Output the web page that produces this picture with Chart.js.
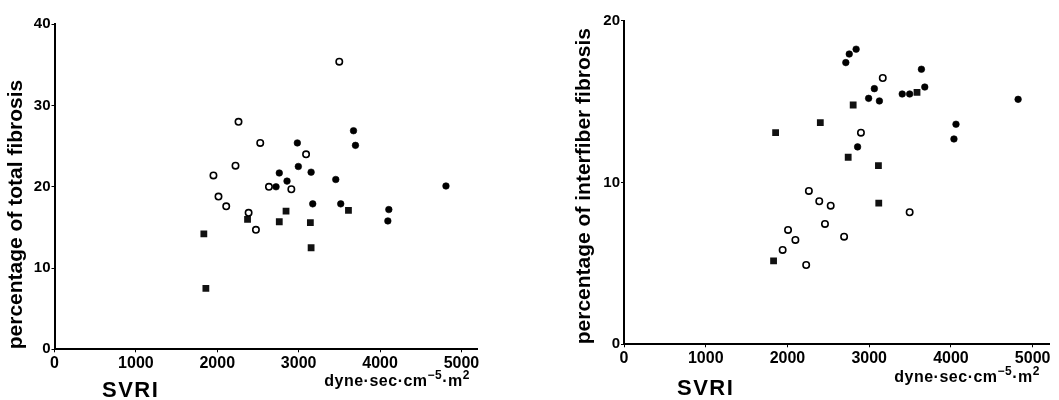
<!DOCTYPE html>
<html>
<head>
<meta charset="utf-8">
<script src="https://cdn.jsdelivr.net/npm/chart.js@4.4.1/dist/chart.umd.min.js"></script>
<style>
  html, body { margin: 0; padding: 0; background: #fff; }
  #wrap { position: relative; width: 1059px; height: 400px; }
  #leftChart { position: absolute; left: 0; top: 0; }
  #rightChart { position: absolute; left: 530px; top: 0; }
</style>
</head>
<body>
<div id="wrap">
  <canvas id="leftChart" width="530" height="400"></canvas>
  <canvas id="rightChart" width="529" height="400"></canvas>
</div>
<script>
// ==============================
// DATA
// ==============================
const xTicks = [0, 1000, 2000, 3000, 4000, 5000];
const leftYTicks = [0, 10, 20, 30, 40];
const rightYTicks = [0, 10, 20];

const xName = "SVRI";
const unitParts = ["dyne·sec·cm", "−5", "·m", "2"]; // odd entries are superscripts

const leftTitle = "percentage of total fibrosis";
const rightTitle = "percentage of interfiber fibrosis";

// total fibrosis
const leftOpenX = [3499, 2261, 2528, 3091, 2224, 1953, 2635, 2910, 2015, 2110, 2385, 2475];
const leftOpenY = [35.4, 28.0, 25.4, 24.0, 22.6, 21.4, 20.0, 19.7, 18.8, 17.6, 16.8, 14.7];
const leftFilledX = [3674, 3698, 2984, 2996, 2762, 3153, 2857, 2722, 3456, 3173, 3517, 4108, 4096, 4810];
const leftFilledY = [26.9, 25.1, 25.4, 22.5, 21.7, 21.8, 20.7, 20.0, 20.9, 17.9, 17.9, 17.2, 15.8, 20.1];
const leftSquareX = [1835, 1860, 2372, 2762, 2845, 3144, 3153, 3612];
const leftSquareY = [14.2, 7.5, 16.0, 15.7, 17.0, 15.6, 12.5, 17.1];

// interfiber fibrosis
const rightOpenX = [3166, 2899, 2262, 2389, 2529, 3495, 2459, 2007, 2693, 2097, 1941, 2229];
const rightOpenY = [16.46, 13.08, 9.48, 8.84, 8.57, 8.16, 7.44, 7.07, 6.65, 6.45, 5.83, 4.9];
const rightFilledX = [2714, 2756, 2840, 3639, 3063, 2993, 3125, 3404, 3495, 3680, 4822, 4062, 4037, 2858];
const rightFilledY = [17.41, 17.94, 18.24, 17.0, 15.8, 15.2, 15.04, 15.47, 15.47, 15.9, 15.14, 13.6, 12.69, 12.2];
const rightSquareX = [3585, 2804, 2402, 1855, 2743, 3113, 3117, 1830];
const rightSquareY = [15.57, 14.79, 13.7, 13.08, 11.56, 11.04, 8.73, 5.15];

// ==============================
// HELPERS
// ==============================
const FONT = '"Liberation Sans", Arial, sans-serif';

function pts(xs, ys) {
  return xs.map((x, i) => ({ x: x, y: ys[i] }));
}

function makeSets(openX, openY, filledX, filledY, sqX, sqY) {
  return [
    {
      data: pts(openX, openY),
      pointStyle: "circle",
      pointRadius: 3.2,
      pointBorderWidth: 1.6,
      pointBackgroundColor: "#fff",
      pointBorderColor: "#000",
    },
    {
      data: pts(filledX, filledY),
      pointStyle: "circle",
      pointRadius: 3.3,
      pointBorderWidth: 0.6,
      pointBackgroundColor: "#000",
      pointBorderColor: "#000",
    },
    {
      data: pts(sqX, sqY),
      pointStyle: "rect",
      pointRadius: 4.8,
      pointBorderWidth: 0,
      pointBackgroundColor: "#111",
      pointBorderColor: "#000",
    },
  ];
}

// SVRI + units under the x axis
const extraText = {
  id: "extraText",
  afterDraw(chart, args, opts) {
    const ctx = chart.ctx;
    const area = chart.chartArea;
    ctx.save();
    ctx.fillStyle = "#000";
    ctx.textBaseline = "alphabetic";
    ctx.textAlign = "left";

    ctx.font = "bold 22px " + FONT;
    ctx.letterSpacing = "1.5px";
    ctx.fillText(xName, area.left + opts.nameDx, opts.nameY);

    // units, right aligned
    ctx.letterSpacing = "0.5px";
    const big = "bold 16px " + FONT;
    const small = "bold 12px " + FONT;
    let total = 0;
    unitParts.forEach((p, i) => {
      ctx.font = i % 2 ? small : big;
      total += ctx.measureText(p).width;
    });
    let x = opts.unitsRight - total;
    unitParts.forEach((p, i) => {
      ctx.font = i % 2 ? small : big;
      ctx.fillText(p, x, i % 2 ? opts.unitsY - 7 : opts.unitsY);
      x += ctx.measureText(p).width;
    });
    ctx.restore();
  },
};

function makeChart(id, sets, cfg) {
  const ctx = document.getElementById(id).getContext("2d");
  return new Chart(ctx, {
    type: "scatter",
    data: { datasets: sets },
    plugins: [extraText],
    options: {
      responsive: false,
      animation: false,
      layout: {
        padding: { left: 0, top: cfg.top, right: cfg.right, bottom: 0 },
      },
      plugins: {
        legend: { display: false },
        tooltip: { enabled: false },
        extraText: cfg.text,
      },
      scales: {
        x: {
          type: "linear",
          min: 0,
          max: 5200,
          afterBuildTicks: (s) => { s.ticks = xTicks.map(v => ({ value: v })); },
          afterFit: (s) => { s.height = cfg.xHeight; },
          border: { display: true, color: "#000", width: 2 },
          grid: { drawOnChartArea: false, drawTicks: true, tickLength: 3, color: "#000" },
          ticks: {
            color: "#000",
            padding: 2,
            maxRotation: 0,
            autoSkip: false,
            callback: (v) => String(v),
            font: { family: FONT, size: 16, weight: "bold" },
          },
        },
        y: {
          type: "linear",
          min: 0,
          max: cfg.yMax,
          afterBuildTicks: (s) => { s.ticks = cfg.yTicks.map(v => ({ value: v })); },
          afterFit: (s) => { s.width = cfg.yWidth; },
          border: { display: true, color: "#000", width: 2 },
          grid: { drawOnChartArea: false, drawTicks: true, tickLength: 3, color: "#000" },
          ticks: {
            color: "#000",
            padding: 1,
            autoSkip: false,
            callback: (v) => String(v),
            font: { family: FONT, size: 15, weight: "bold" },
          },
          title: {
            display: true,
            text: cfg.title,
            align: "start",
            color: "#000",
            padding: { top: cfg.titlePad, bottom: 0 },
            font: { family: FONT, size: 21, weight: "bold" },
          },
        },
      },
    },
  });
}

// ==============================
// INIT
// ==============================
makeChart("leftChart",
  makeSets(leftOpenX, leftOpenY, leftFilledX, leftFilledY, leftSquareX, leftSquareY),
  {
    top: 24.3, right: 52.3, xHeight: 50.7, yWidth: 54.5, yMax: 40,
    yTicks: leftYTicks, title: leftTitle, titlePad: 4,
    text: { nameDx: 47.5, nameY: 397, unitsRight: 470, unitsY: 386 },
  });

makeChart("rightChart",
  makeSets(rightOpenX, rightOpenY, rightFilledX, rightFilledY, rightSquareX, rightSquareY),
  {
    top: 20.7, right: 10, xHeight: 55.7, yWidth: 94, yMax: 20,
    yTicks: rightYTicks, title: rightTitle, titlePad: 42,
    text: { nameDx: 53, nameY: 395, unitsRight: 510, unitsY: 382 },
  });
</script>
</body>
</html>
